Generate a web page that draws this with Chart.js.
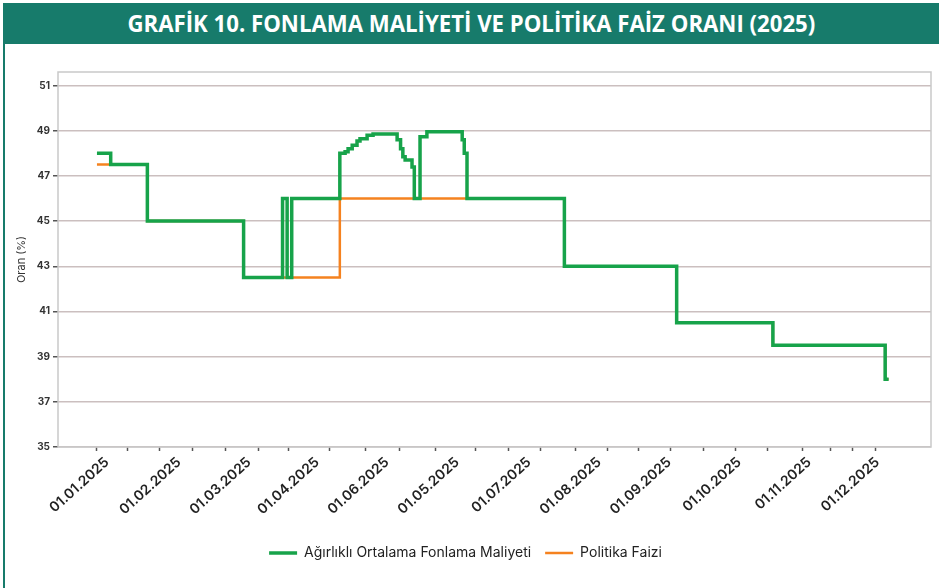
<!DOCTYPE html>
<html>
<head>
<meta charset="utf-8">
<script src="https://cdn.jsdelivr.net/npm/chart.js@4.4.1/dist/chart.umd.min.js"></script>
<style>
  body { margin: 0; background: #fff; }
  #wrap { position: relative; width: 939px; height: 588px; overflow: hidden; }
  #band { position: absolute; left: 4px; top: 3px; width: 935px; height: 41px; background: #177b6b;
          color: #fff; font-family: "Open Sans", sans-serif; font-weight: bold;
          font-size: 23px; line-height: 41px; text-align: center; }
  #band span { display: inline-block; transform: scaleX(0.965); transform-origin: center; }
  #edge { position: absolute; left: 3px; top: 3px; width: 2px; height: 585px; background: #177b6b; }
  canvas { position: absolute; left: 0; top: 0; }
</style>
</head>
<body>
<div id="wrap">
  <canvas id="theGraph" width="939" height="588"></canvas>
  <div id="edge"></div>
  <div id="band"><span>GRAFİK 10. FONLAMA MALİYETİ VE POLİTİKA FAİZ ORANI (2025)</span></div>
</div>
<script>
// days counted from 01.01.2025, value holds from that day on
var fundingDays = [0, 6, 22, 64, 81, 83, 85, 106, 108.3, 109.6, 111.4, 113.5, 114.8, 117.9, 120.5,
  131, 132.5, 133.5, 134.5, 137.5, 138.5, 141, 144, 159.4, 160.3, 161.5, 204, 253, 295, 344, 345.5];
var fundingRates = [48, 47.5, 45, 42.5, 46, 42.5, 46, 48.0, 48.07, 48.2, 48.36, 48.55, 48.65, 48.8, 48.85,
  48.6, 48.2, 47.85, 47.7, 47.4, 46, 48.73, 48.95, 48.6, 48.0, 46, 43, 40.5, 39.5, 38, 38];

var policyDays = [0, 22, 64, 106, 204, 253, 295, 344, 345.5];
var policyRates = [47.5, 45, 42.5, 46, 43, 40.5, 39.5, 38, 38];

// x axis labels as printed on the original (order kept)
var labelDays = [4.4, 35.8, 66.4, 96.1, 126.6, 157.2, 188.6, 219.2, 249.8, 280.3, 310.9, 340.6];
var tickLabels = ["01.01.2025", "01.02.2025", "01.03.2025", "01.04.2025", "01.06.2025", "01.05.2025",
  "01.07.2025", "01.08.2025", "01.09.2025", "01.10.2025", "01.11.2025", "01.12.2025"];
var markDays = [0, 13.5, 27.5, 41.9, 56.3, 70.3, 83.8, 101.7, 117, 131.9, 147.6, 165.1, 179.5, 193.4,
  208.7, 222.7, 236.2, 250.2, 264.6, 278.6, 292.6, 307.9, 320.1, 329.7, 339.7];
var yTicks = [35, 37, 39, 41, 43, 45, 47, 49, 51];

function pts(days, vals) {
  return days.map(function (d, i) { return { x: d, y: vals[i] }; });
}

var frame = {
  id: 'frame',
  afterDraw: function (chart) {
    var a = chart.chartArea, c = chart.ctx;
    c.save();
    c.strokeStyle = '#c9c9c9';
    c.lineWidth = 1.5;
    c.strokeRect(a.left, a.top, a.right - a.left, a.bottom - a.top);
    c.restore();
  }
};

var ctx = document.getElementById("theGraph");
var graph = new Chart(ctx, {
  type: 'line',
  data: {
    datasets: [
      {
        label: "Ağırlıklı Ortalama Fonlama Maliyeti",
        data: pts(fundingDays, fundingRates),
        borderColor: "#17a34a",
        backgroundColor: "#17a34a",
        borderWidth: 3.5,
        stepped: 'before',
        pointRadius: 0
      },
      {
        label: "Politika Faizi",
        data: pts(policyDays, policyRates),
        borderColor: "#f5821f",
        backgroundColor: "#f5821f",
        borderWidth: 2.5,
        stepped: 'before',
        pointRadius: 0
      }
    ]
  },
  options: {
    responsive: false,
    animation: false,
    layout: { padding: { top: 72, right: 8, left: 0, bottom: 18 } },
    plugins: {
      legend: {
        position: 'bottom',
        labels: {
          usePointStyle: true,
          pointStyle: 'line',
          pointStyleWidth: 28,
          color: '#222',
          padding: 14,
          font: { family: 'Inter', size: 14 }
        }
      },
      tooltip: { enabled: false }
    },
    scales: {
      x: {
        type: 'linear',
        min: -17,
        max: 364,
        afterBuildTicks: function (scale) {
          var all = markDays.concat(labelDays).slice().sort(function (a, b) { return a - b; });
          scale.ticks = all.map(function (v) { return { value: v }; });
        },
        afterFit: function (scale) { scale.height = 85; },
        ticks: {
          autoSkip: false,
          minRotation: 42,
          maxRotation: 42,
          padding: 3,
          color: '#222',
          font: { family: 'Inter', size: 14, weight: 600 },
          callback: function (v) {
            var i = labelDays.indexOf(v);
            return i >= 0 ? tickLabels[i] : '';
          }
        },
        grid: {
          drawOnChartArea: false,
          tickLength: 4,
          tickColor: function (c) { return c.tick && c.tick.label ? 'transparent' : '#555'; },
          tickWidth: 1.5
        },
        border: { display: false }
      },
      y: {
        min: 35,
        max: 51.6,
        afterBuildTicks: function (scale) {
          scale.ticks = yTicks.map(function (v) { return { value: v }; });
        },
        afterFit: function (scale) { scale.width = 58; },
        ticks: {
          padding: 3,
          color: '#333',
          font: { family: 'Inter', size: 10, weight: 700 }
        },
        grid: {
          color: '#cbbfbf',
          lineWidth: 1.5,
          tickLength: 5,
          tickColor: '#555'
        },
        border: { display: false },
        title: {
          display: true,
          text: 'Oran (%)',
          color: '#333',
          font: { family: 'Inter', size: 11 },
          padding: { top: 15, bottom: 0 }
        }
      }
    }
  },
  plugins: [frame]
});
</script>
</body>
</html>
